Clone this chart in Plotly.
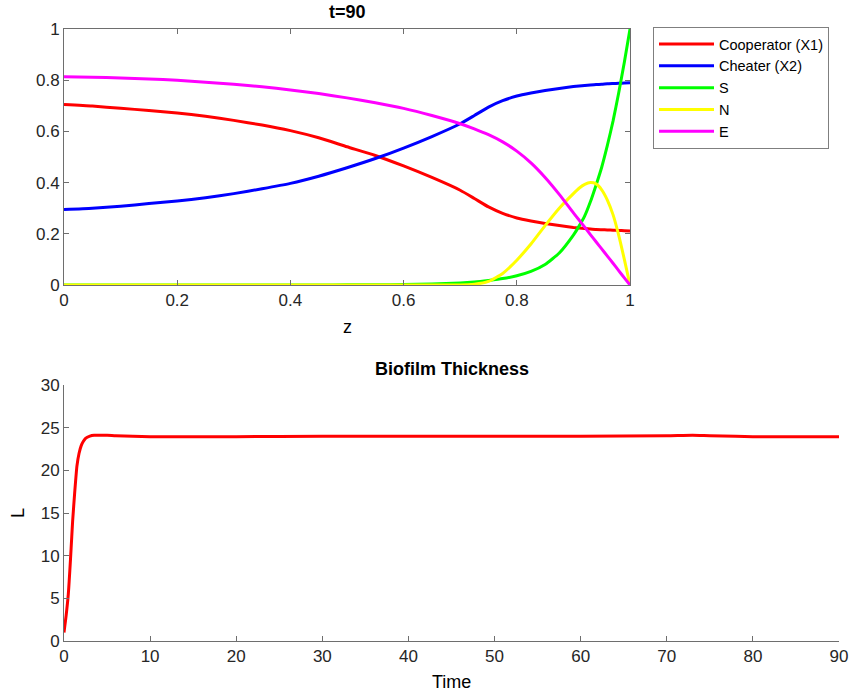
import plotly.graph_objects as go

# ---------------- data: top panel (profiles at t=90) ----------------
z = [0, 0.05, 0.1, 0.15, 0.2, 0.25, 0.3, 0.35, 0.4, 0.45, 0.5, 0.55, 0.6, 0.65, 0.7,
     0.725, 0.75, 0.775, 0.8, 0.825, 0.85, 0.875, 0.9,
     0.91, 0.92, 0.93, 0.94, 0.95, 0.96, 0.97, 0.98, 0.99, 1.0]

cooperator = [0.705, 0.699, 0.690, 0.682, 0.672, 0.659, 0.643, 0.625, 0.603, 0.575, 0.540, 0.506, 0.465, 0.420, 0.370,
              0.338, 0.305, 0.280, 0.262, 0.250, 0.240, 0.232, 0.225,
              0.223, 0.221, 0.219, 0.217, 0.216, 0.215, 0.214, 0.213, 0.212, 0.211]

cheater = [0.295, 0.300, 0.308, 0.318, 0.328, 0.341, 0.357, 0.376, 0.397, 0.425, 0.458, 0.494, 0.535, 0.580, 0.630,
           0.662, 0.695, 0.720, 0.738, 0.750, 0.760, 0.768, 0.775,
           0.777, 0.779, 0.781, 0.783, 0.784, 0.786, 0.787, 0.788, 0.789, 0.790]

S = [0, 0, 0, 0, 0, 0, 0, 0, 0, 0, 0.0005, 0.001, 0.002, 0.004, 0.008,
     0.012, 0.018, 0.025, 0.036, 0.053, 0.080, 0.125, 0.195,
     0.23, 0.27, 0.325, 0.39, 0.46, 0.545, 0.64, 0.75, 0.87, 1.0]

N = [0, 0, 0, 0, 0, 0, 0, 0, 0, 0, 0, 0, 0, 0, 0,
     0.003, 0.014, 0.045, 0.097, 0.160, 0.232, 0.300, 0.357,
     0.378, 0.393, 0.400, 0.395, 0.372, 0.332, 0.275, 0.195, 0.100, 0.0]

E = [0.813, 0.812, 0.809, 0.805, 0.800, 0.792, 0.784, 0.774, 0.762, 0.748, 0.731, 0.712, 0.690, 0.662, 0.630,
     0.610, 0.587, 0.559, 0.523, 0.477, 0.420, 0.354, 0.282,
     0.254, 0.226, 0.197, 0.169, 0.141, 0.113, 0.085, 0.056, 0.028, 0.0]

# ---------------- data: bottom panel (biofilm thickness) ----------------
time = [0, 0.1, 0.25, 0.4, 0.5, 0.6, 0.75, 0.9, 1.0, 1.25, 1.5, 1.75, 2.0, 2.25, 2.5, 3.0, 3.5, 4.0,
        5, 6, 8, 10, 15, 20, 30, 40, 50, 60, 70, 73, 75, 78, 80, 90]
thickness = [1.0, 1.8, 3.0, 4.4, 5.5, 7.0, 9.5, 12.2, 14.0, 17.5, 20.5, 22.0, 22.9, 23.4, 23.75, 24.0, 24.1, 24.1,
             24.1, 24.05, 24.0, 23.95, 23.95, 23.95, 24.0, 24.0, 24.0, 24.0, 24.05, 24.1, 24.05, 24.0, 23.95, 23.95]

top_ticks = [0, 0.2, 0.4, 0.6, 0.8, 1]
time_ticks = [0, 10, 20, 30, 40, 50, 60, 70, 80, 90]
L_ticks = [0, 5, 10, 15, 20, 25, 30]

FONT = "Liberation Sans, Arial, Helvetica, sans-serif"
TXT = "#262626"
AX = "#6e6e6e"
W, H = 852, 696

fig = go.Figure()
series = [("Cooperator (X1)", cooperator, "#ff0000"),
          ("Cheater (X2)", cheater, "#0000ff"),
          ("S", S, "#00ff00"),
          ("N", N, "#ffff00"),
          ("E", E, "#ff00ff")]
for name, vals, col in series:
    fig.add_trace(go.Scatter(x=z, y=vals, mode="lines", name=name,
                             line=dict(color=col, width=3, shape="spline", smoothing=0.5),
                             xaxis="x", yaxis="y"))

fig.add_trace(go.Scatter(x=time, y=thickness, mode="lines", showlegend=False,
                         line=dict(color="#ff0000", width=3, shape="spline", smoothing=0.5),
                         xaxis="x2", yaxis="y2"))

def px(v):
    return v / W

def py(v):
    return 1 - v / H

common = dict(showgrid=False, zeroline=False, ticks="inside", ticklen=5, tickcolor=AX,
              linecolor=AX, linewidth=1, showline=True, automargin=False,
              tickfont=dict(family=FONT, size=17, color=TXT))

fig.update_layout(
    width=W, height=H,
    margin=dict(l=0, r=0, t=0, b=0, autoexpand=False),
    paper_bgcolor="white", plot_bgcolor="white",
    font=dict(family=FONT, color=TXT),
    xaxis=dict(domain=[px(64), px(630)], range=[0, 1], tickvals=top_ticks, ticktext=[str(t) for t in top_ticks],
               mirror="ticks", anchor="y", **common),
    yaxis=dict(domain=[py(285), py(29)], range=[0, 1], tickvals=top_ticks, ticktext=[str(t) for t in top_ticks],
               mirror="ticks", anchor="x", **common),
    xaxis2=dict(domain=[px(64), px(839)], range=[0, 90], tickvals=time_ticks, anchor="y2", **common),
    yaxis2=dict(domain=[py(641), py(385)], range=[0, 30], tickvals=L_ticks, anchor="x2", **common),
    legend=dict(x=px(653), y=py(27), xanchor="left", yanchor="top",
                bgcolor="white", bordercolor="#7f7f7f", borderwidth=1, itemwidth=55,
                font=dict(family=FONT, size=14.5, color="#000000"), tracegroupgap=0),
    showlegend=True,
)

annos = [
    dict(text="<b>t=90</b>", x=px(347), y=py(12), size=18),
    dict(text="z", x=px(347), y=py(327), size=18),
    dict(text="<b>Biofilm Thickness</b>", x=px(451.5), y=py(369), size=18),
    dict(text="Time", x=px(451.5), y=py(682), size=18),
]
for a in annos:
    fig.add_annotation(text=a["text"], x=a["x"], y=a["y"], xref="paper", yref="paper",
                       xanchor="center", yanchor="middle", showarrow=False,
                       font=dict(family=FONT, size=a["size"], color="#000000"))
fig.add_annotation(text="L", x=px(18), y=py(513), xref="paper", yref="paper",
                   xanchor="center", yanchor="middle", showarrow=False, textangle=-90,
                   font=dict(family=FONT, size=18, color="#000000"))

post = (
    "document.documentElement.style.margin='0';document.documentElement.style.padding='0';"
    "document.documentElement.style.overflow='hidden';"
    "document.body.style.margin='0';document.body.style.padding='0';document.body.style.overflow='hidden';"
    "var gd=document.getElementById('{plot_id}');"
    "gd.style.position='fixed';gd.style.left='0px';gd.style.top='0px';"
)
fig.write_html("out.html", config={"displayModeBar": False}, post_script=post)
